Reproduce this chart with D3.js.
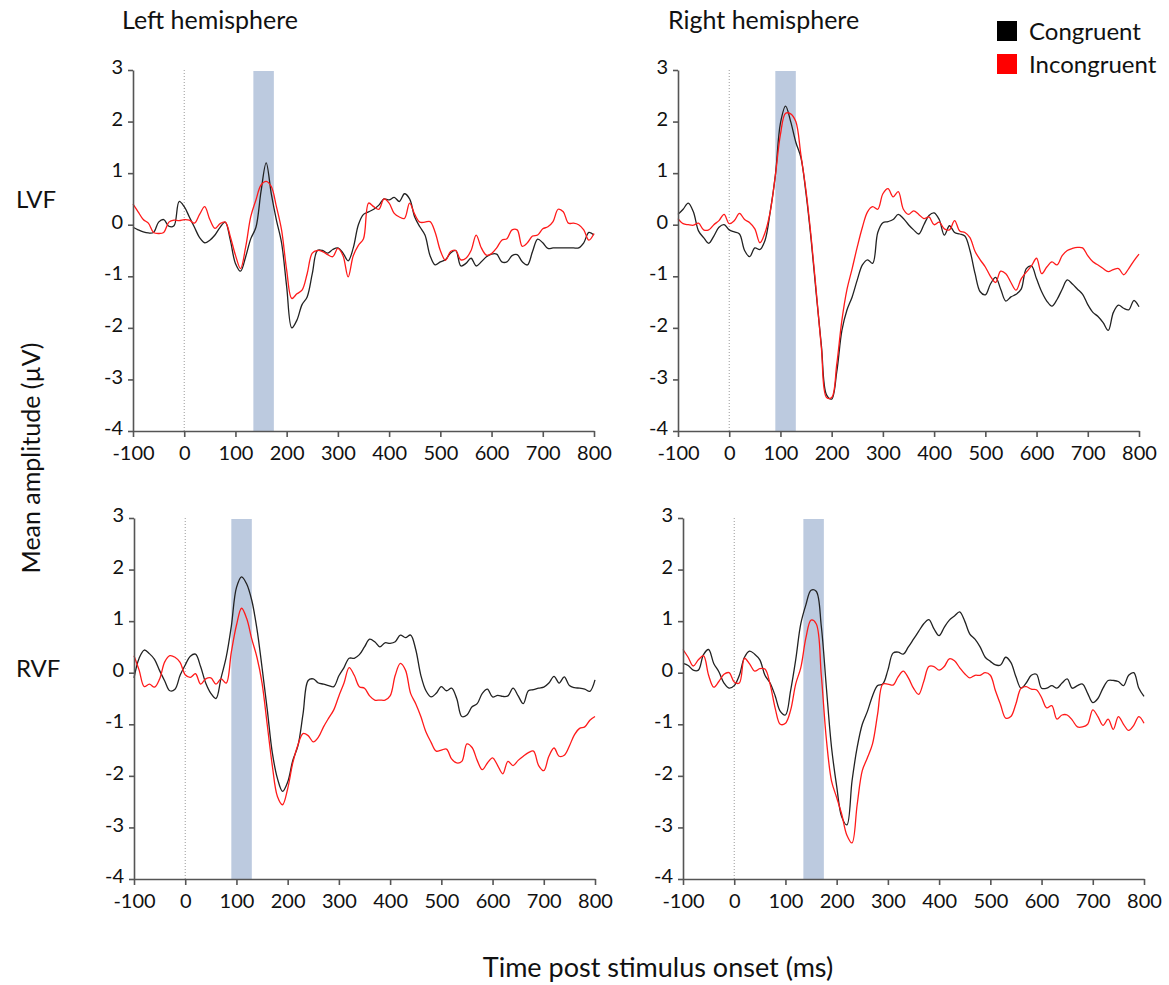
<!DOCTYPE html>
<html>
<head>
<meta charset="utf-8">
<script src="https://cdn.jsdelivr.net/npm/d3@7"></script>
<style>
  body { margin: 0; background: #fff; }
  text { font-family: Lato, "Open Sans", sans-serif; fill: #111; }
  .axis path, .axis line { stroke: #555; stroke-width: 1.6; }
  .axis text { font-size: 20px; fill: #111; }
</style>
</head>
<body>
<script>
// time points (ms), one value every 10 ms
var times = d3.range(-100, 801, 10);
var xTicks = [-100, 0, 100, 200, 300, 400, 500, 600, 700, 800];
var yTicks = [-4, -3, -2, -1, 0, 1, 2, 3];

// Left hemisphere, LVF
var lhLvfCong = [-0.05,-0.1,-0.14,-0.16,-0.15,0.05,0.1,-0.03,-0.02,0.45,
  0.35,0.15,-0.05,-0.25,-0.35,-0.3,-0.2,-0.05,0.05,-0.3,
  -0.75,-0.9,-0.62,-0.27,-0.05,0.65,1.2,0.6,0.09,-0.35,
  -1.2,-2.0,-1.85,-1.55,-1.4,-0.95,-0.5,-0.5,-0.55,-0.48,
  -0.45,-0.55,-0.7,-0.45,0.0,0.2,0.25,0.3,0.38,0.5,
  0.48,0.53,0.45,0.6,0.5,0.15,-0.04,-0.2,-0.6,-0.78,
  -0.72,-0.68,-0.55,-0.5,-0.8,-0.75,-0.65,-0.8,-0.72,-0.62,
  -0.57,-0.57,-0.72,-0.72,-0.6,-0.58,-0.72,-0.78,-0.52,-0.28,
  -0.35,-0.46,-0.45,-0.45,-0.45,-0.45,-0.45,-0.45,-0.35,-0.15,
  -0.2];
var lhLvfIncong = [0.4,0.25,0.1,0.03,-0.15,-0.17,-0.15,0.05,0.09,0.08,
  0.1,0.09,0.03,0.2,0.35,0.1,-0.07,0.02,0.05,-0.23,
  -0.59,-0.85,-0.43,0.16,0.48,0.77,0.84,0.74,0.35,-0.1,
  -0.88,-1.43,-1.34,-1.27,-0.95,-0.55,-0.5,-0.52,-0.58,-0.62,
  -0.46,-0.6,-1.01,-0.6,-0.4,-0.27,0.42,0.35,0.3,0.5,
  0.42,0.22,0.15,0.12,0.42,0.2,0.05,0.05,0.06,-0.15,
  -0.5,-0.69,-0.52,-0.5,-0.68,-0.65,-0.5,-0.2,-0.45,-0.59,
  -0.56,-0.45,-0.3,-0.27,-0.1,-0.1,-0.42,-0.35,-0.22,-0.2,
  -0.08,-0.04,0.06,0.3,0.25,0.03,0.03,0.0,-0.1,-0.3,
  -0.17];

// Right hemisphere, LVF
var rhLvfCong = [0.2,0.3,0.42,0.25,-0.12,-0.25,-0.36,-0.22,-0.05,0.0,
  -0.1,-0.14,-0.18,-0.5,-0.62,-0.45,-0.48,-0.3,0.25,0.95,
  1.97,2.3,2.0,1.6,1.3,0.6,-0.3,-1.35,-2.35,-3.3,
  -3.38,-2.85,-2.05,-1.65,-1.4,-1.07,-0.78,-0.68,-0.75,-0.15,
  0.04,0.06,0.1,0.2,0.12,0.0,-0.1,-0.18,0.0,0.18,
  0.23,0.1,-0.2,-0.02,-0.15,-0.18,-0.22,-0.5,-0.95,-1.3,
  -1.36,-1.15,-1.02,-1.25,-1.48,-1.4,-1.35,-1.25,-0.85,-0.8,
  -1.05,-1.3,-1.48,-1.58,-1.45,-1.25,-1.07,-1.15,-1.25,-1.35,
  -1.55,-1.7,-1.78,-1.9,-2.05,-1.7,-1.56,-1.62,-1.65,-1.47,
  -1.59];
var rhLvfIncong = [0.12,0.02,0.0,-0.01,0.03,-0.1,-0.1,0.0,0.08,0.2,
  0.02,0.08,0.22,0.1,0.04,-0.08,-0.35,-0.15,0.25,0.95,
  1.75,2.16,2.15,2.0,1.35,0.65,-0.25,-1.3,-2.4,-3.35,
  -3.35,-2.7,-1.85,-1.25,-0.85,-0.43,-0.05,0.25,0.35,0.3,
  0.6,0.7,0.54,0.64,0.3,0.2,0.27,0.2,0.12,0.15,
  0.0,0.05,-0.08,-0.1,0.08,-0.12,-0.15,-0.25,-0.52,-0.68,
  -0.82,-1.0,-1.12,-0.9,-0.95,-1.12,-1.27,-1.05,-0.92,-0.8,
  -0.65,-0.95,-0.82,-0.72,-0.78,-0.6,-0.5,-0.46,-0.44,-0.45,
  -0.6,-0.72,-0.78,-0.85,-0.91,-0.87,-0.85,-0.97,-0.85,-0.7,
  -0.57];

// Left hemisphere, RVF
var lhRvfCong = [-0.1,0.28,0.44,0.37,0.26,0.04,-0.16,-0.35,-0.32,-0.05,
  0.15,0.32,0.36,0.12,-0.2,-0.4,-0.5,-0.1,0.3,0.9,
  1.65,1.86,1.72,1.4,0.85,0.1,-0.7,-1.55,-2.05,-2.3,
  -2.12,-1.7,-1.42,-0.8,-0.15,-0.12,-0.2,-0.22,-0.25,-0.27,
  -0.06,0.1,0.28,0.28,0.35,0.5,0.65,0.6,0.5,0.58,
  0.57,0.6,0.73,0.68,0.73,0.45,-0.05,-0.35,-0.47,-0.4,
  -0.27,-0.35,-0.3,-0.5,-0.85,-0.82,-0.66,-0.6,-0.4,-0.32,
  -0.47,-0.44,-0.46,-0.45,-0.3,-0.45,-0.6,-0.35,-0.33,-0.3,
  -0.28,-0.2,-0.07,-0.2,-0.08,-0.25,-0.29,-0.3,-0.32,-0.36,
  -0.14];
var lhRvfIncong = [0.33,0.05,-0.27,-0.22,-0.28,-0.12,0.21,0.33,0.3,0.2,
  -0.04,-0.09,-0.02,-0.22,-0.12,-0.1,-0.22,-0.12,-0.2,0.4,
  0.92,1.25,1.05,0.65,0.3,-0.2,-1.0,-1.8,-2.4,-2.56,
  -2.25,-1.75,-1.4,-1.18,-1.22,-1.34,-1.25,-1.05,-0.88,-0.72,
  -0.45,-0.2,0.1,-0.05,-0.27,-0.3,-0.45,-0.53,-0.53,-0.53,
  -0.45,-0.05,0.18,0.05,-0.4,-0.6,-0.85,-1.15,-1.35,-1.52,
  -1.5,-1.48,-1.67,-1.75,-1.72,-1.38,-1.45,-1.7,-1.88,-1.75,
  -1.65,-1.8,-1.96,-1.72,-1.8,-1.7,-1.62,-1.55,-1.52,-1.8,
  -1.9,-1.62,-1.46,-1.62,-1.6,-1.42,-1.2,-1.08,-1.05,-0.92,
  -0.85];

// Right hemisphere, RVF
var rhRvfCong = [0.18,0.14,0.05,0.05,0.35,0.45,0.18,0.02,-0.2,-0.3,
  -0.25,-0.05,0.3,0.42,0.36,0.25,-0.05,-0.2,-0.45,-0.75,
  -0.82,-0.35,0.25,0.95,1.32,1.6,1.58,0.9,-0.3,-1.45,
  -2.2,-2.8,-2.95,-2.1,-1.45,-1.0,-0.75,-0.45,-0.25,-0.22,
  0.05,0.38,0.4,0.36,0.5,0.65,0.8,0.95,1.03,0.85,
  0.72,0.88,1.02,1.1,1.18,1.0,0.75,0.65,0.5,0.3,
  0.22,0.15,0.15,0.3,0.2,-0.08,-0.3,-0.2,-0.05,-0.03,
  -0.3,-0.3,-0.25,-0.3,-0.2,-0.12,-0.3,-0.25,-0.22,-0.4,
  -0.58,-0.5,-0.3,-0.15,-0.15,-0.17,-0.25,-0.05,0.0,-0.3,
  -0.46];
var rhRvfIncong = [0.45,0.3,0.13,0.25,0.33,-0.05,-0.28,-0.17,-0.03,0.0,
  -0.18,-0.2,0.28,0.17,0.03,0.08,0.07,-0.22,-0.69,-1.0,
  -0.98,-0.73,-0.22,0.1,0.68,1.02,0.95,-0.05,-1.3,-2.1,
  -2.42,-2.75,-3.15,-3.3,-2.56,-1.9,-1.65,-1.38,-0.8,-0.22,
  -0.22,-0.24,-0.08,0.03,-0.1,-0.3,-0.42,-0.17,0.12,0.12,
  0.05,0.12,0.27,0.23,0.1,-0.02,-0.1,-0.05,-0.05,0.0,
  -0.05,-0.35,-0.62,-0.88,-0.85,-0.6,-0.3,-0.27,-0.32,-0.33,
  -0.48,-0.68,-0.64,-0.9,-0.82,-0.82,-0.92,-1.05,-1.05,-1.0,
  -0.72,-0.85,-1.02,-0.9,-1.1,-0.85,-1.0,-1.12,-1.02,-0.85,
  -0.98];

// analysis windows (ms) shaded in each panel
var windows = [[135, 175], [90, 130], [90, 130], [135, 175]];
var seriesNames = ["Congruent", "Incongruent"];
var seriesColors = ["#222222", "#ff1a1a"];

var W = 1169, H = 985;
var pw = 461, ph = 361;

var panels = [
  { left: 133, top: 70, cong: lhLvfCong, incong: lhLvfIncong, win: windows[0] },
  { left: 678, top: 70, cong: rhLvfCong, incong: rhLvfIncong, win: windows[1] },
  { left: 134, top: 518, cong: lhRvfCong, incong: lhRvfIncong, win: windows[2] },
  { left: 683, top: 518, cong: rhRvfCong, incong: rhRvfIncong, win: windows[3] }
];

var svg = d3.select("body").append("svg")
  .attr("width", W)
  .attr("height", H);

var x = d3.scaleLinear().domain([-100, 800]).range([0, pw]);
var y = d3.scaleLinear().domain([-4, 3]).range([ph, 0]);

var fmt = function (d) { return String(d); }; // plain hyphen minus, no decimals

var line = d3.line()
  .x(function (d, i) { return x(times[i]); })
  .y(function (d) { return y(d); })
  .curve(d3.curveCatmullRom.alpha(0.5));

panels.forEach(function (p) {
  var g = svg.append("g")
    .attr("transform", "translate(" + p.left + "," + p.top + ")");

  // shaded window
  g.append("rect")
    .attr("x", x(p.win[0]))
    .attr("y", y(3) + 1)
    .attr("width", x(p.win[1]) - x(p.win[0]))
    .attr("height", y(-4) - y(3) - 1)
    .attr("fill", "#bccadf");

  // stimulus onset
  g.append("line")
    .attr("x1", x(0)).attr("x2", x(0))
    .attr("y1", y(3)).attr("y2", y(-4))
    .attr("stroke", "#999")
    .attr("stroke-width", 1)
    .style("stroke-dasharray", "1,2");

  [p.cong, p.incong].forEach(function (vals, k) {
    g.append("path")
      .datum(vals)
      .attr("fill", "none")
      .attr("stroke", seriesColors[k])
      .attr("stroke-width", 1.3)
      .attr("d", line);
  });

  g.append("g")
    .attr("class", "axis")
    .attr("transform", "translate(0," + ph + ")")
    .call(d3.axisBottom(x).tickValues(xTicks).tickFormat(fmt)
      .tickSize(6).tickSizeOuter(0).tickPadding(9));

  g.append("g")
    .attr("class", "axis")
    .call(d3.axisLeft(y).tickValues(yTicks).tickFormat(fmt)
      .tickSize(5).tickSizeOuter(0).tickPadding(5))
    .selectAll("text").attr("dy", "0.18em");
});

// titles and labels
svg.append("text").attr("x", 122).attr("y", 29)
  .style("font-size", "25px").text("Left hemisphere");
svg.append("text").attr("x", 668).attr("y", 29)
  .style("font-size", "25px").text("Right hemisphere");
svg.append("text").attr("x", 16).attr("y", 208)
  .style("font-size", "24px").text("LVF");
svg.append("text").attr("x", 16).attr("y", 677)
  .style("font-size", "24px").text("RVF");
svg.append("text")
  .attr("transform", "translate(40,458) rotate(-90)")
  .attr("text-anchor", "middle")
  .style("font-size", "25px")
  .text("Mean amplitude (µV)");
svg.append("text").attr("x", 658).attr("y", 977)
  .attr("text-anchor", "middle")
  .style("font-size", "27px")
  .text("Time post stimulus onset (ms)");

// legend
var legend = svg.append("g").attr("transform", "translate(997,21)");
seriesNames.forEach(function (name, i) {
  legend.append("rect")
    .attr("x", 0).attr("y", i * 33)
    .attr("width", 20).attr("height", 20)
    .attr("fill", i === 0 ? "#000" : "#ff0000");
  legend.append("text")
    .attr("x", 32).attr("y", i * 33 + 19)
    .style("font-size", "24px")
    .text(name);
});
</script>
</body>
</html>
